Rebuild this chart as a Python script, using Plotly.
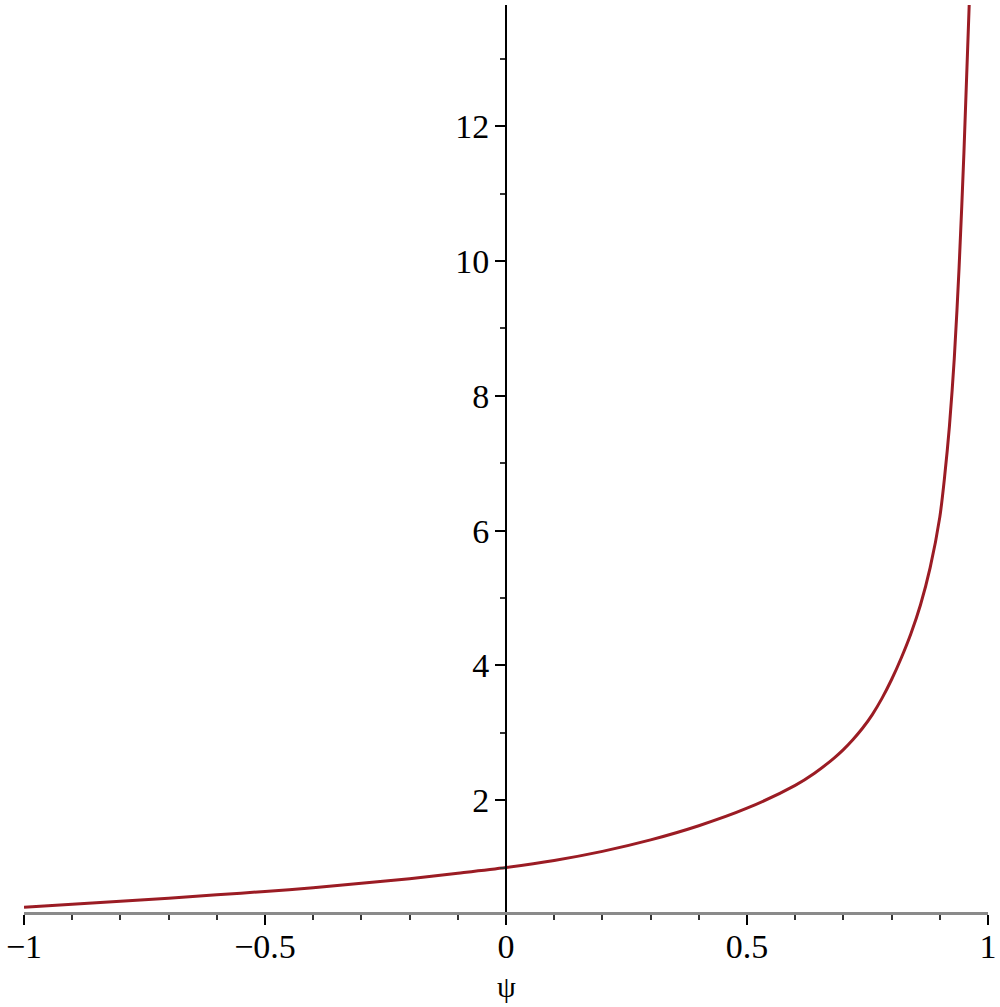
import plotly.graph_objects as go

# values
psi = [-1.0, -0.9, -0.8, -0.7, -0.6, -0.5, -0.4, -0.3, -0.2, -0.1,
       0.0, 0.1, 0.2, 0.3, 0.4, 0.5, 0.6, 0.64, 0.68, 0.70,
       0.72, 0.74, 0.76, 0.78, 0.8, 0.82, 0.84, 0.86, 0.88, 0.9,
       0.91, 0.92, 0.93, 0.94, 0.95, 0.961]
value = [0.41, 0.455, 0.50, 0.545, 0.595, 0.645, 0.70, 0.765, 0.835, 0.915,
         1.00, 1.105, 1.24, 1.41, 1.62, 1.88, 2.22, 2.40, 2.62, 2.75,
         2.90, 3.07, 3.27, 3.51, 3.79, 4.11, 4.47, 4.90, 5.45, 6.20,
         6.80, 7.55, 8.55, 9.90, 11.6, 13.8]

x_ticks = [-1, -0.5, 0, 0.5, 1]
x_labels = ["\u22121", "\u22120.5", "0", "0.5", "1"]
y_ticks = [2, 4, 6, 8, 10, 12]
y_labels = ["2", "4", "6", "8", "10", "12"]

serif = "Liberation Serif, Times New Roman, serif"

fig = go.Figure(go.Scatter(
    x=psi,
    y=value,
    mode="lines",
    line=dict(color="#9B1C24", width=3, shape="spline", smoothing=0.8),
    showlegend=False,
))

fig.update_layout(
    width=1000,
    height=1007,
    margin=dict(l=24, r=12, t=5, b=95),
    plot_bgcolor="white",
    paper_bgcolor="white",
)

fig.update_xaxes(
    range=[-1, 1],
    automargin=False,
    showgrid=False,
    zeroline=False,
    showline=True,
    linecolor="#8a8a8a",
    linewidth=3,
    ticks="outside",
    ticklen=10,
    tickwidth=2,
    tickcolor="black",
    tickvals=x_ticks,
    ticktext=x_labels,
    tickfont=dict(family=serif, size=34, color="black"),
    ticklabelstandoff=-8,
    ticklabeloverflow="allow",
    minor=dict(dtick=0.1, tick0=0, ticks="outside", ticklen=5, tickwidth=2, tickcolor="#333"),
)

fig.update_yaxes(
    range=[0.34, 13.8],
    automargin=False,
    anchor="free",
    position=0.5,
    showgrid=False,
    zeroline=False,
    showline=True,
    linecolor="black",
    linewidth=2,
    ticks="outside",
    ticklen=10,
    tickwidth=2,
    tickcolor="black",
    tickvals=y_ticks,
    ticktext=y_labels,
    tickfont=dict(family=serif, size=34, color="black"),
    ticklabelstandoff=-1,
    minor=dict(dtick=1, tick0=1, ticks="outside", ticklen=5, tickwidth=2, tickcolor="#333"),
)

# axis name sits under the 0 tick, as in the reference
fig.add_annotation(
    text="\u03c8",
    x=0, xref="x",
    y=0, yref="paper",
    yanchor="top",
    yshift=-56,
    showarrow=False,
    font=dict(family=serif, size=30, color="black"),
)

# drop the page's default body margin so the figure fills the window
fig.write_html(
    "out.html",
    config={"displayModeBar": False},
    post_script="document.body.style.margin = '0px';",
)
